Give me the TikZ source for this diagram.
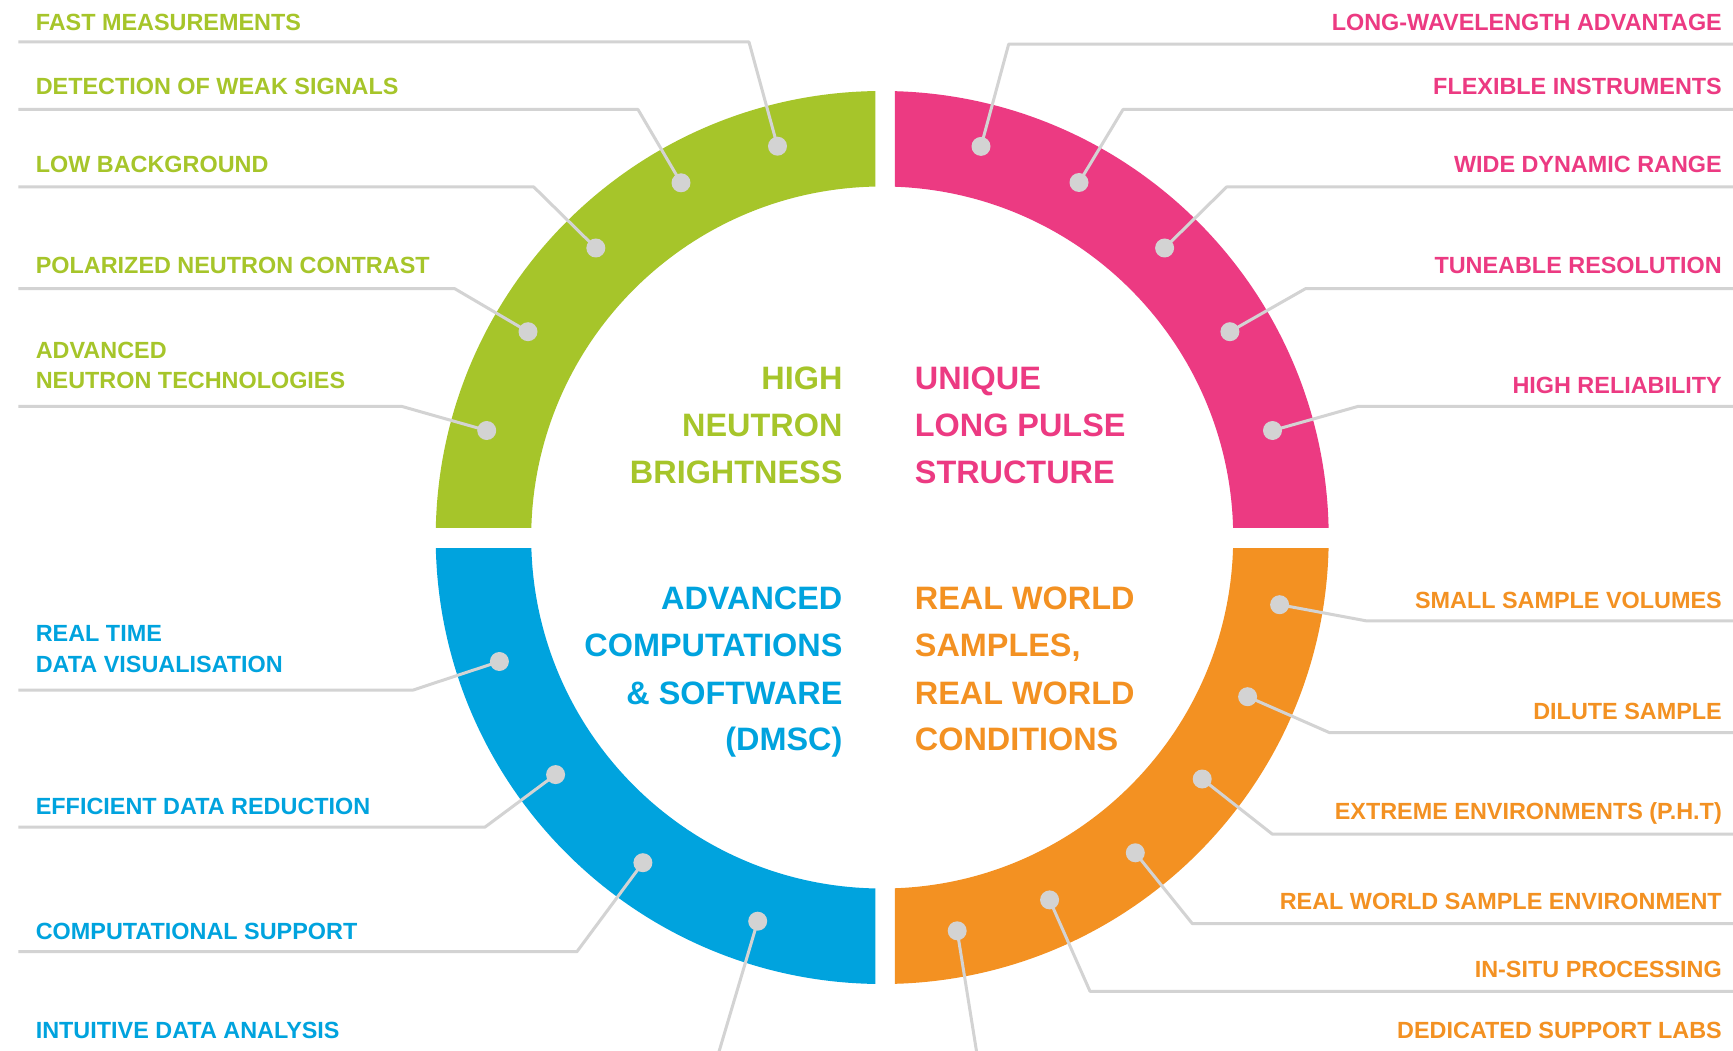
\documentclass[tikz,border=0pt]{standalone}
\usepackage{fontspec}
\setmainfont{Liberation Sans}
\definecolor{essgreen}{HTML}{A6C52A}
\definecolor{esspink}{HTML}{EC3A82}
\definecolor{essblue}{HTML}{00A3DE}
\definecolor{essorange}{HTML}{F39122}
\definecolor{leadgrey}{HTML}{D3D3D3}
\begin{document}
\begin{tikzpicture}[x=1pt,y=-1pt,
  leader/.style={draw=leadgrey, line width=3pt, line join=round},
  dotn/.style={circle, fill=leadgrey, inner sep=0pt, minimum size=19pt},
  small/.style={inner sep=0pt, font=\fontsize{23.4}{28}\selectfont\bfseries},
  big/.style={inner sep=0pt, font=\fontsize{32.4}{40}\selectfont\bfseries},
  lft/.style={small, anchor=base west},
  rgt/.style={small, anchor=base east},
  bigl/.style={big, anchor=base west},
  bigr/.style={big, anchor=base east}]
\useasboundingbox (0,0) rectangle (1733,1051);
\fill[white] (0,0) rectangle (1733,1051);
\coordinate (c) at (882.2,537.5);
% ring quadrants
\begin{scope}
  \clip (0,0) rectangle (875.3,527);
  \fill[essgreen,even odd rule] (c) circle[radius=446.5] (c) circle[radius=351];
\end{scope}
\begin{scope}
  \clip (894.8,0) rectangle (1733,527);
  \fill[esspink,even odd rule] (c) circle[radius=446.5] (c) circle[radius=351];
\end{scope}
\begin{scope}
  \clip (0,548.1) rectangle (875.3,1051);
  \fill[essblue,even odd rule] (c) circle[radius=446.5] (c) circle[radius=351];
\end{scope}
\begin{scope}
  \clip (894.8,548.1) rectangle (1733,1051);
  \fill[essorange,even odd rule] (c) circle[radius=446.5] (c) circle[radius=351];
\end{scope}

% centre titles
\node[bigr, text=essgreen] (tg1) at (842.6,389) {HIGH};
\node[bigr, text=essgreen] (tg2) at (842.6,436) {NEUTRON};
\node[bigr, text=essgreen] (tg3) at (842.6,483) {BRIGHTNESS};
\node[bigl, text=esspink] (tp1) at (914.7,389) {UNIQUE};
\node[bigl, text=esspink] (tp2) at (914.7,436) {LONG PULSE};
\node[bigl, text=esspink] (tp3) at (914.7,483) {STRUCTURE};
\node[bigr, text=essblue] (tb1) at (842.6,609) {ADVANCED};
\node[bigr, text=essblue] (tb2) at (842.6,656) {COMPUTATIONS};
\node[bigr, text=essblue] (tb3) at (842.6,704) {\& SOFTWARE};
\node[bigr, text=essblue] (tb4) at (842.6,750) {(DMSC)};
\node[bigl, text=essorange] (to1) at (914.7,609) {REAL WORLD};
\node[bigl, text=essorange] (to2) at (914.7,656) {SAMPLES,};
\node[bigl, text=essorange] (to3) at (914.7,704) {REAL WORLD};
\node[bigl, text=essorange] (to4) at (914.7,750) {CONDITIONS};

% labels green
\node[lft, text=essgreen] (lg1) at (35.6,30.3) {FAST MEASUREMENTS};
\node[lft, text=essgreen] (lg2) at (35.6,94.7) {DETECTION OF WEAK SIGNALS};
\node[lft, text=essgreen] (lg3) at (35.6,172.9) {LOW BACKGROUND};
\node[lft, text=essgreen] (lg4) at (35.6,273.8) {POLARIZED NEUTRON CONTRAST};
\node[lft, text=essgreen] (lg5a) at (35.6,358.2) {ADVANCED};
\node[lft, text=essgreen] (lg5b) at (35.6,388.5) {NEUTRON TECHNOLOGIES};
% labels pink
\node[rgt, text=esspink] (lp1) at (1722,31) {LONG-WAVELENGTH ADVANTAGE};
\node[rgt, text=esspink] (lp2) at (1722,94.7) {FLEXIBLE INSTRUMENTS};
\node[rgt, text=esspink] (lp3) at (1722,172.9) {WIDE DYNAMIC RANGE};
\node[rgt, text=esspink] (lp4) at (1722,273.8) {TUNEABLE RESOLUTION};
\node[rgt, text=esspink] (lp5) at (1722,393.7) {HIGH RELIABILITY};
% labels blue
\node[lft, text=essblue] (lb1a) at (35.6,641) {REAL TIME};
\node[lft, text=essblue] (lb1b) at (35.6,672.4) {DATA VISUALISATION};
\node[lft, text=essblue] (lb2) at (35.6,814.6) {EFFICIENT DATA REDUCTION};
\node[lft, text=essblue] (lb3) at (35.6,939.2) {COMPUTATIONAL SUPPORT};
\node[lft, text=essblue] (lb4) at (35.6,1038.5) {INTUITIVE DATA ANALYSIS};
% labels orange
\node[rgt, text=essorange] (lo1) at (1722,608.8) {SMALL SAMPLE VOLUMES};
\node[rgt, text=essorange] (lo2) at (1722,719.7) {DILUTE SAMPLE};
\node[rgt, text=essorange] (lo3) at (1722,819.8) {EXTREME ENVIRONMENTS (P.H.T)};
\node[rgt, text=essorange] (lo4) at (1722,909.5) {REAL WORLD SAMPLE ENVIRONMENT};
\node[rgt, text=essorange] (lo5) at (1722,977.1) {IN-SITU PROCESSING};
\node[rgt, text=essorange] (lo6) at (1722,1038.5) {DEDICATED SUPPORT LABS};

% dots
\node[dotn] (g1) at (777.5,146.2) {};
\node[dotn] (g2) at (681,182.8) {};
\node[dotn] (g3) at (595.8,248) {};
\node[dotn] (g4) at (528,331.7) {};
\node[dotn] (g5) at (486.7,430.5) {};
\node[dotn] (p1) at (981,146.4) {};
\node[dotn] (p2) at (1079,182.5) {};
\node[dotn] (p3) at (1164.6,248) {};
\node[dotn] (p4) at (1229.9,331.7) {};
\node[dotn] (p5) at (1272.5,430.5) {};
\node[dotn] (b1) at (499.4,661.5) {};
\node[dotn] (b2) at (555.6,774.6) {};
\node[dotn] (b3) at (642.9,862.7) {};
\node[dotn] (b4) at (757.7,921.2) {};
\node[dotn] (o1) at (1279.6,604.7) {};
\node[dotn] (o2) at (1247.6,696.7) {};
\node[dotn] (o3) at (1202.2,779) {};
\node[dotn] (o4) at (1135.3,852.8) {};
\node[dotn] (o5) at (1049.6,899.9) {};
\node[dotn] (o6) at (957.2,930.8) {};

% leader end points
\coordinate (gs1) at (18.4,42);    \coordinate (ge1) at (749,42);
\coordinate (gs2) at (18.4,109.5); \coordinate (ge2) at (638,109.5);
\coordinate (gs3) at (18.4,187);   \coordinate (ge3) at (533.8,187);
\coordinate (gs4) at (18.4,288.6); \coordinate (ge4) at (454.6,288.6);
\coordinate (gs5) at (18.4,406.4); \coordinate (ge5) at (401.8,406.4);
\coordinate (ps1) at (1733,44.1);  \coordinate (pe1) at (1008.7,44.1);
\coordinate (ps2) at (1733,109.5); \coordinate (pe2) at (1123,109.5);
\coordinate (ps3) at (1733,187);   \coordinate (pe3) at (1226.6,187);
\coordinate (ps4) at (1733,288.6); \coordinate (pe4) at (1305.6,288.6);
\coordinate (ps5) at (1733,406.4); \coordinate (pe5) at (1358,406.4);
\coordinate (bs1) at (18.4,690);   \coordinate (be1) at (413.3,690);
\coordinate (bs2) at (18.4,827.1); \coordinate (be2) at (485,827.1);
\coordinate (bs3) at (18.4,951.7); \coordinate (be3) at (576.9,951.7);
\coordinate (bs4) at (718.6,1053);
\coordinate (os1) at (1733,620.9); \coordinate (oe1) at (1366.5,620.9);
\coordinate (os2) at (1733,732.6); \coordinate (oe2) at (1329.4,732.6);
\coordinate (os3) at (1733,834.2); \coordinate (oe3) at (1272.4,834.2);
\coordinate (os4) at (1733,923.6); \coordinate (oe4) at (1192.3,923.6);
\coordinate (os5) at (1733,991.3); \coordinate (oe5) at (1090,991.3);
\coordinate (os6) at (976.8,1053);

% leaders
\foreach \s/\e/\d in {gs1/ge1/g1, gs2/ge2/g2, gs3/ge3/g3, gs4/ge4/g4, gs5/ge5/g5,
                      ps1/pe1/p1, ps2/pe2/p2, ps3/pe3/p3, ps4/pe4/p4, ps5/pe5/p5,
                      bs1/be1/b1, bs2/be2/b2, bs3/be3/b3,
                      os1/oe1/o1, os2/oe2/o2, os3/oe3/o3, os4/oe4/o4, os5/oe5/o5}
  \draw[leader] (\s) -- (\e) -- (\d.center);
\draw[leader] (bs4) -- (b4.center);
\draw[leader] (os6) -- (o6.center);
\end{tikzpicture}
\end{document}
